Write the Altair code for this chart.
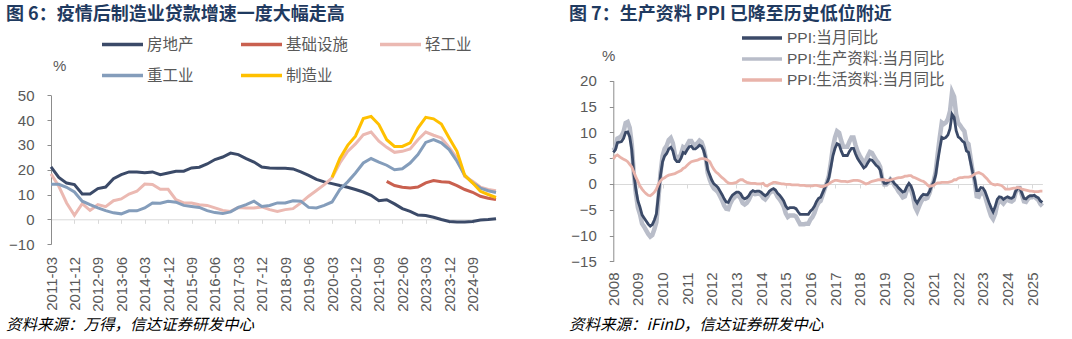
import json
import altair as alt
import pandas as pd

FONT = "Liberation Sans, Arial, Noto Sans CJK SC"
CJK = "Noto Sans CJK SC"

# ---------------- Figure 6: loans by sector, quarterly 2011-03 .. 2025-06 ----------------
title6 = "图 6：疫情后制造业贷款增速一度大幅走高"
source6 = "资料来源：万得，信达证券研发中心"
q_tick_labels = ["2011-03", "2011-12", "2012-09", "2013-06", "2014-03", "2014-12", "2015-09",
                 "2016-06", "2017-03", "2017-12", "2018-09", "2019-06", "2020-03", "2020-12",
                 "2021-09", "2022-06", "2023-03", "2023-12", "2024-09"]
series6 = ["房地产", "基础设施", "轻工业", "重工业", "制造业"]
colors6 = ["#3B4A68", "#C9604F", "#EBB9B2", "#849DBB", "#FFC000"]

realestate = [21.1, 16.9, 14.6, 14.0, 10.2, 10.2, 12.4, 13.0, 16.4, 18.0, 19.1, 19.1, 18.8, 19.1,
              18.0, 18.7, 19.4, 19.4, 20.7, 21.0, 22.3, 24.1, 25.1, 26.7, 26.1, 24.5, 23.1, 21.1,
              20.7, 20.6, 20.6, 20.3, 19.1, 17.7, 16.1, 15.1, 14.4, 13.6, 12.9, 12.0, 11.0, 9.7,
              7.5, 7.9, 6.2, 4.3, 3.2, 1.7, 1.5, 0.8, -0.1, -0.9, -1.1, -1.1, -0.9, -0.3, -0.1, 0.2]
infra_start = 43  # first quarter index (2021-12)
infra = [15.3, 13.6, 12.9, 12.6, 13.0, 14.7, 15.6, 15.1, 14.9, 13.6, 12.0, 10.9, 9.3, 8.5, 8.0]
light_ind = [18.3, 13.3, 6.6, 1.6, 6.3, 3.6, 5.9, 5.1, 7.5, 8.2, 10.2, 11.3, 14.2, 14.0,
             12.1, 12.1, 7.9, 6.6, 6.6, 5.9, 5.6, 4.6, 3.6, 3.2, 4.8, 4.6, 4.6, 5.0,
             3.9, 3.2, 3.9, 4.3, 6.6, 9.3, 11.6, 14.0, 16.7, 22.7, 27.4, 30.4, 34.1, 35.2,
             31.5, 29.0, 27.0, 27.4, 28.4, 32.1, 35.2, 33.9, 32.8, 29.0, 24.7, 17.3, 15.3, 13.0, 12.0, 11.5]
heavy_ind = [14.1, 14.1, 12.9, 11.0, 7.3, 5.9, 4.6, 3.5, 2.6, 2.2, 3.4, 3.4, 4.6, 6.6,
             6.5, 7.3, 6.9, 5.6, 5.2, 4.8, 3.5, 2.7, 2.3, 3.0, 4.8, 5.9, 7.3, 5.2,
             5.6, 6.6, 6.6, 7.5, 7.3, 4.8, 4.6, 5.6, 7.0, 12.0, 15.1, 18.7, 22.7, 24.5,
             23.1, 21.8, 20.0, 20.4, 22.7, 26.1, 31.0, 32.1, 30.8, 28.1, 23.4, 17.7, 14.7, 12.6, 11.5, 10.8]
manuf_start = 36  # first quarter index (2020-03)
manuf = [16.9, 24.5, 29.8, 33.5, 40.6, 41.5, 38.2, 32.1, 29.4, 29.4, 30.8, 36.8, 41.1, 40.5,
         38.4, 32.8, 27.4, 17.7, 14.7, 11.3, 10.0, 8.8]

# ---------------- Figure 7: PPI, monthly 2008-01 .. 2025-06 ----------------
title7 = "图 7：生产资料 PPI 已降至历史低位附近"
source7 = "资料来源：iFinD，信达证券研发中心"
year_labels = ["2008", "2009", "2010", "2011", "2012", "2013", "2014", "2015", "2016",
               "2017", "2018", "2019", "2020", "2021", "2022", "2023", "2024", "2025"]
series7 = ["PPI:当月同比", "PPI:生产资料:当月同比", "PPI:生活资料:当月同比"]
colors7 = ["#3B4A68", "#B9BDC9", "#E9B3AA"]

ppi = [6.1, 6.6, 8.0, 8.1, 8.2, 8.8, 10.0, 10.1, 9.1, 6.6, 2.0, -1.1,
       -3.3, -4.5, -6.0, -6.6, -7.2, -7.8, -8.2, -7.9, -7.0, -5.8, -2.1, 1.7,
       4.3, 5.4, 5.9, 6.8, 7.1, 6.4, 4.8, 4.3, 4.3, 5.0, 6.1, 5.9,
       6.6, 7.2, 7.3, 6.8, 6.8, 7.1, 7.5, 7.3, 6.5, 5.0, 2.7, 1.7,
       0.7, 0.0, -0.3, -0.7, -1.4, -2.1, -2.9, -3.5, -3.6, -2.8, -2.2, -1.9,
       -1.6, -1.6, -1.9, -2.6, -2.9, -2.7, -2.3, -1.6, -1.3, -1.5, -1.4, -1.4,
       -1.6, -2.0, -2.3, -2.0, -1.4, -1.1, -0.9, -1.2, -1.8, -2.2, -2.7, -3.3,
       -4.3, -4.8, -4.6, -4.6, -4.6, -4.8, -5.4, -5.9, -5.9, -5.9, -5.9, -5.9,
       -5.3, -4.9, -4.3, -3.4, -2.8, -2.6, -1.7, -0.8, 0.1, 1.2, 3.3, 5.5,
       6.9, 7.8, 7.6, 6.4, 5.5, 5.5, 5.5, 6.3, 6.9, 6.9, 5.8, 4.9,
       4.3, 3.7, 3.1, 3.4, 4.1, 4.7, 4.6, 4.1, 3.6, 3.3, 2.7, 0.9,
       0.1, 0.1, 0.4, 0.9, 0.6, 0.0, -0.3, -0.8, -1.2, -1.6, -1.4, -0.5,
       0.1, -0.4, -1.5, -3.1, -3.7, -3.0, -2.4, -2.0, -2.1, -2.1, -1.5, -0.4,
       0.3, 1.7, 4.4, 6.8, 9.0, 8.8, 9.0, 9.5, 10.7, 13.5, 12.9, 10.3,
       9.1, 8.8, 8.3, 8.0, 6.4, 6.1, 4.2, 2.3, 0.9, -1.3, -1.3, -0.7,
       -0.8, -1.4, -2.5, -3.6, -4.6, -5.4, -4.4, -3.0, -2.5, -2.6, -3.0, -2.7,
       -2.5, -2.7, -2.8, -2.5, -1.4, -0.8, -0.8, -1.8, -2.8, -2.9, -2.5, -2.3,
       -2.3, -2.2, -2.5, -2.7, -3.3, -3.6]
ppi_producer = [6.5, 7.0, 8.8, 9.0, 9.3, 10.1, 11.8, 12.0, 10.9, 7.7, 1.9, -1.9,
                -4.6, -5.9, -7.7, -8.3, -9.0, -9.7, -10.2, -9.9, -8.8, -7.4, -2.8, 2.1,
                5.4, 6.8, 7.4, 8.5, 8.9, 7.9, 5.7, 5.0, 4.9, 5.8, 7.1, 6.8,
                7.6, 8.3, 8.3, 7.6, 7.6, 7.9, 8.4, 8.1, 7.0, 5.1, 2.1, 0.8,
                -0.2, -0.9, -1.2, -1.6, -2.4, -3.2, -4.2, -4.8, -4.9, -3.8, -3.0, -2.6,
                -2.2, -2.3, -2.8, -3.7, -4.0, -3.7, -3.1, -2.2, -1.8, -2.0, -1.9, -1.9,
                -2.1, -2.7, -3.0, -2.5, -1.8, -1.5, -1.3, -1.7, -2.5, -3.0, -3.6, -4.4,
                -5.7, -6.4, -6.1, -6.1, -6.1, -6.3, -7.1, -7.8, -7.8, -7.8, -7.7, -7.7,
                -6.9, -6.4, -5.6, -4.4, -3.6, -3.3, -2.1, -0.9, 0.2, 1.6, 4.3, 7.2,
                9.0, 10.2, 9.9, 8.4, 7.2, 7.2, 7.2, 8.2, 9.0, 9.0, 7.5, 6.3,
                5.5, 4.8, 4.1, 4.5, 5.4, 6.2, 6.0, 5.3, 4.6, 4.1, 3.3, 0.9,
                -0.1, -0.1, 0.3, 0.9, 0.5, -0.3, -0.8, -1.5, -2.0, -2.6, -2.4, -1.2,
                -0.4, -1.1, -2.4, -4.5, -5.3, -4.3, -3.4, -2.8, -2.9, -2.7, -1.8, -0.4,
                0.5, 2.3, 5.8, 9.0, 11.9, 11.6, 11.9, 12.6, 14.1, 17.8, 16.9, 13.5,
                11.8, 11.3, 10.7, 10.2, 8.1, 7.7, 5.1, 2.5, 0.6, -2.4, -2.5, -1.6,
                -1.7, -2.3, -3.7, -5.0, -6.2, -6.8, -5.8, -4.0, -3.3, -3.4, -3.8, -3.3,
                -3.0, -3.3, -3.4, -3.1, -1.6, -0.8, -0.8, -2.1, -3.4, -3.5, -2.9, -2.6,
                -2.6, -2.4, -2.8, -3.1, -3.9, -4.3]
ppi_consumer = [4.8, 5.4, 5.6, 5.3, 5.0, 4.8, 4.6, 4.3, 3.8, 3.3, 2.3, 1.3,
                0.5, -0.4, -1.0, -1.5, -1.9, -2.2, -2.3, -2.0, -1.6, -1.0, 0.0, 0.6,
                1.0, 1.2, 1.5, 1.7, 1.8, 1.9, 2.0, 2.2, 2.4, 2.6, 3.0, 3.2,
                3.6, 4.0, 4.3, 4.4, 4.5, 4.6, 4.8, 4.9, 4.9, 4.8, 4.6, 4.3,
                3.5, 2.8, 2.3, 2.0, 1.6, 1.2, 0.9, 0.5, 0.2, 0.1, 0.1, 0.2,
                0.3, 0.6, 0.8, 0.8, 0.5, 0.3, 0.2, 0.1, 0.1, 0.1, 0.0, 0.0,
                0.0, 0.1, -0.3, -0.4, -0.1, 0.1, 0.3, 0.3, 0.2, 0.1, 0.0, 0.0,
                -0.1, -0.1, -0.1, -0.2, -0.2, -0.2, -0.2, -0.3, -0.3, -0.3, -0.4, -0.4,
                -0.4, -0.4, -0.3, -0.3, -0.4, -0.5, -0.5, -0.4, -0.2, 0.0, 0.3, 0.5,
                0.7, 0.7, 0.6, 0.5, 0.5, 0.5, 0.4, 0.5, 0.6, 0.7, 0.7, 0.7,
                0.6, 0.4, 0.2, 0.0, 0.1, 0.3, 0.5, 0.6, 0.7, 0.8, 0.8, 0.8,
                0.8, 0.7, 0.7, 0.8, 0.9, 1.0, 1.1, 1.2, 1.2, 1.3, 1.5, 1.5,
                1.6, 1.6, 1.3, 1.2, 1.0, 0.8, 0.6, 0.5, 0.2, -0.2, -0.5, -0.4,
                -0.3, 0.0, 0.2, 0.2, 0.3, 0.3, 0.3, 0.3, 0.4, 0.5, 0.8, 0.8,
                1.1, 1.2, 1.2, 1.3, 1.3, 1.3, 1.4, 1.6, 1.9, 2.1, 2.2, 2.0,
                1.8, 1.4, 1.0, 0.5, 0.1, -0.1, -0.2, -0.1, -0.2, -0.3, -0.6, -1.0,
                -1.0, -1.0, -0.9, -0.8, -0.8, -0.7, -0.8, -1.0, -1.1, -1.2, -1.3, -1.4,
                -1.4, -1.5, -1.5, -1.5, -1.4, -1.4]

# ---------------- tables ----------------
rows6 = []
for name, vals, start in [("房地产", realestate, 0), ("基础设施", infra, infra_start),
                          ("轻工业", light_ind, 0), ("重工业", heavy_ind, 0),
                          ("制造业", manuf, manuf_start)]:
    for k, v in enumerate(vals):
        rows6.append({"i": start + k, "v": v, "s": name})
df6 = pd.DataFrame(rows6)

rows7 = []
for name, vals in zip(series7, [ppi, ppi_producer, ppi_consumer]):
    for k, v in enumerate(vals):
        rows7.append({"m": k, "v": v, "s": name})
df7 = pd.DataFrame(rows7)

n6 = len(realestate) - 1
n7 = len(ppi) - 1

LABEL_C = "#595959"
AXIS_C = "#8C8C8C"
ZERO_C = "#D9D9D9"

# ---------------- left panel ----------------
x6 = alt.X("i:Q",
           scale=alt.Scale(domain=[0, n6], range=[51, 496], nice=False, zero=False),
           axis=alt.Axis(orient="bottom", offset=-119.7, values=list(range(0, len(q_tick_labels) * 3, 3)),
                         labelExpr=json.dumps(q_tick_labels) + "[round(datum.value/3)]",
                         labelAngle=270, labelPadding=33, labelFontSize=15, labelFont=FONT,
                         labelColor=LABEL_C, domainColor=ZERO_C, tickColor=ZERO_C, tickSize=4,
                         grid=False, title=None, labelOverlap=False, labelBound=False))
y6 = alt.Y("v:Q",
           scale=alt.Scale(domain=[-10, 50], range=[244.1, 95.3], nice=False, zero=False),
           axis=alt.Axis(orient="left", offset=-51, values=[-10, 0, 10, 20, 30, 40, 50],
                         labelFontSize=15, labelFont=FONT, labelColor=LABEL_C, labelPadding=13,
                         domainColor=AXIS_C, tickColor=AXIS_C, tickSize=4, grid=False, title=None))
c6 = alt.Color("s:N", scale=alt.Scale(domain=series6, range=colors6),
               legend=alt.Legend(orient="none", legendX=100, legendY=22, direction="horizontal",
                                 columns=3, gridAlign="all", columnPadding=24, rowPadding=-2,
                                 symbolType="stroke", symbolSize=1681, symbolStrokeWidth=3.5,
                                 labelFontSize=15.5, labelFont=FONT, labelColor=LABEL_C,
                                 labelOffset=2, padding=0, title=None))
base6 = alt.Chart(df6)
left_layers = [base6.transform_filter(alt.datum.s == name).mark_line(strokeWidth=3)
               .encode(x=x6, y=y6, color=c6) for name in series6]
left = alt.layer(*left_layers)

# ---------------- right panel ----------------
x7 = alt.X("m:Q",
           scale=alt.Scale(domain=[0, n7], range=[613.3, 1042.4], nice=False, zero=False),
           axis=alt.Axis(orient="bottom", offset=-155, values=list(range(0, len(year_labels) * 12, 12)),
                         labelExpr=json.dumps(year_labels) + "[round(datum.value/12)]",
                         labelAngle=270, labelPadding=84, labelFontSize=15, labelFont=FONT,
                         labelColor=LABEL_C, domainColor=ZERO_C, tickColor=ZERO_C, tickSize=4,
                         grid=False, title=None, labelOverlap=False, labelBound=False))
y7 = alt.Y("v:Q",
           scale=alt.Scale(domain=[-15, 20], range=[261.3, 80.7], nice=False, zero=False),
           axis=alt.Axis(orient="left", offset=-613.3, values=[-15, -10, -5, 0, 5, 10, 15, 20],
                         labelFontSize=15, labelFont=FONT, labelColor=LABEL_C, labelPadding=13,
                         domainColor=AXIS_C, tickColor=AXIS_C, tickSize=4, grid=False, title=None))
c7 = alt.Color("s:N", scale=alt.Scale(domain=series7, range=colors7),
               legend=alt.Legend(orient="none", legendX=750, legendY=26, direction="vertical",
                                 rowPadding=0, symbolType="M-2,0H2", symbolSize=400,
                                 symbolStrokeWidth=3.5, labelFontSize=15.5, labelFont=FONT,
                                 labelColor=LABEL_C, labelOffset=13, padding=0, title=None))
base7 = alt.Chart(df7)
widths7 = {series7[0]: 2.8, series7[1]: 4.5, series7[2]: 2.8}
right_layers = [base7.transform_filter(alt.datum.s == name).mark_line(strokeWidth=widths7[name])
                .encode(x=x7, y=y7, color=c7) for name in [series7[1], series7[0], series7[2]]]
right = alt.layer(*right_layers)


# ---------------- texts ----------------
def text_layer(txt, x, y, size, weight="normal", color="#000000", font=CJK, style="normal"):
    return alt.Chart(pd.DataFrame({"t": [txt]})).mark_text(
        align="left", baseline="middle", fontSize=size, fontWeight=weight, color=color,
        font=font, fontStyle=style
    ).encode(x=alt.value(x), y=alt.value(y), text="t:N")


texts = [
    text_layer(title6, 6, 15, 18, "bold", "#1F3A60"),
    text_layer(title7, 569, 15, 18, "bold", "#1F3A60"),
    text_layer(source6, 6, 325, 15.5, color="#000000", style="italic"),
    text_layer(source7, 569, 325, 15.5, color="#000000", style="italic"),
    text_layer("%", 53, 66, 15, color=LABEL_C, font=FONT),
    text_layer("%", 602, 56, 15, color=LABEL_C, font=FONT),
]

chart = alt.layer(left, right, *texts).resolve_scale(
    x="independent", y="independent", color="independent"
).resolve_axis(x="independent", y="independent").resolve_legend(color="independent").properties(
    width=1072, height=339, autosize=alt.AutoSizeParams(type="none"), padding=0,
    background="#FFFFFF"
).configure_view(stroke=None)

chart.save("out.html", embed_options={"renderer": "svg", "actions": False})
